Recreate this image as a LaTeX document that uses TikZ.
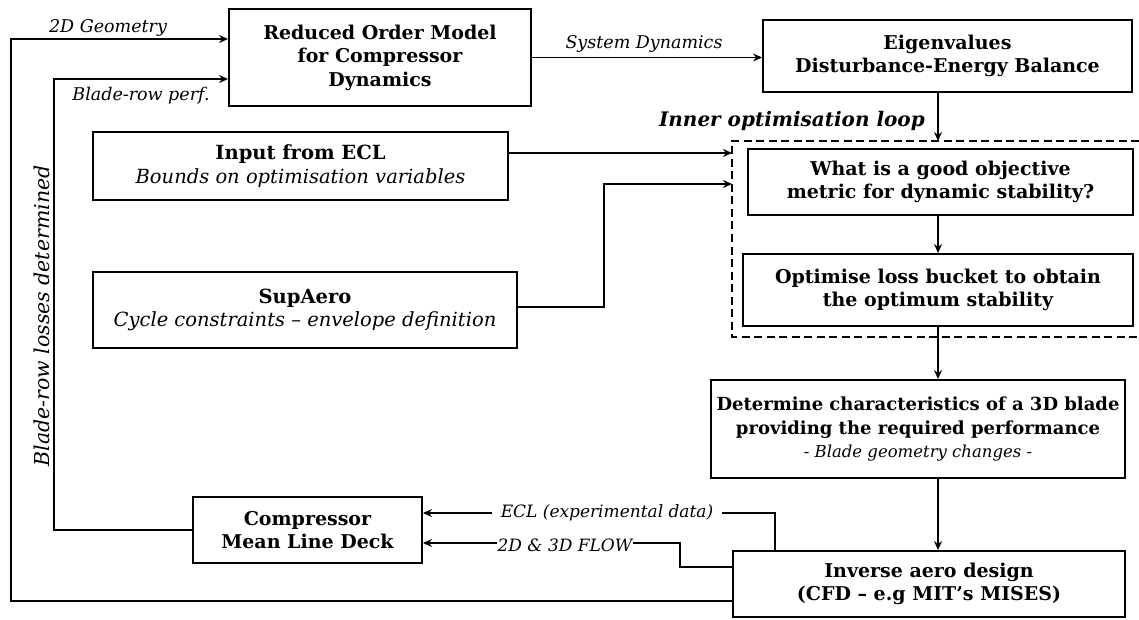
\documentclass[tikz,border=0pt]{standalone}
\usepackage{fontspec}
\setmainfont{DejaVu Serif}
\usetikzlibrary{arrows.meta}
\newcommand\fsz[1]{\fontsize{#1}{23.5}\selectfont}
\newcommand\boxit{\mdseries\itshape}
\begin{document}
\begin{tikzpicture}[x=1pt,y=-1pt,
  box/.style={draw, line width=1.9pt, align=center, inner sep=0pt},
  conn/.style={line width=1.6pt},
  arr/.style={conn, -{Stealth[length=9pt,width=8pt,inset=3pt]}},
  lab/.style={font=\fsz{17.5}\itshape, inner sep=0pt},
  dashbox/.style={line width=1.6pt, dash pattern=on 8pt off 4.5pt}]
\useasboundingbox (0,0) rectangle (1139,620);

% boxes
\node[box, font=\fsz{19}\bfseries, minimum width=302pt, minimum height=97pt] (rom) at (380,57.5) {Reduced Order Model\\for Compressor\\Dynamics};
\node[box, font=\fsz{19}\bfseries, minimum width=369pt, minimum height=72pt] (eig) at (947.5,56) {Eigenvalues\\Disturbance-Energy Balance};
\node[box, font=\fsz{19.5}\bfseries, minimum width=415pt, minimum height=68pt] (ecl) at (300.5,166) {Input from ECL\\{\fsz{19.5}\boxit Bounds on optimisation variables}};
\node[box, font=\fsz{19.5}\bfseries, minimum width=424pt, minimum height=76pt] (sup) at (305,310) {SupAero\\{\fsz{19.5}\boxit Cycle constraints – envelope definition}};
\node[box, font=\fsz{19}\bfseries, minimum width=385pt, minimum height=66pt] (what) at (940.5,182) {What is a good objective\\metric for dynamic stability?};
\node[box, font=\fsz{19}\bfseries, minimum width=390pt, minimum height=72pt] (opt) at (938,290) {Optimise loss bucket to obtain\\the optimum stability};
\node[box, font=\fsz{18}\bfseries, minimum width=414pt, minimum height=98pt] (det) at (918,429) {Determine characteristics of a 3D blade\\providing the required performance\\{\fsz{16.5}\boxit - Blade geometry changes -}};
\node[box, font=\fsz{19}\bfseries, minimum width=392pt, minimum height=66pt] (inv) at (929,584) {Inverse aero design\\(CFD – e.g MIT's MISES)};
\node[box, font=\fsz{19}\bfseries, minimum width=229pt, minimum height=66pt] (cmp) at (307.5,530) {Compressor\\Mean Line Deck};

% dashed inner loop frame
\coordinate (dtl) at (732,141);
\coordinate (dbl) at (732,337);
\coordinate (dtr) at (1139,141);
\coordinate (dbr) at (1139,337);
\draw[dashbox] (dtr) -- (dtl) -- (dbl) -- (dbr);
\node[font=\fsz{20}\bfseries\itshape, anchor=east, inner sep=0pt] (inner) at (925,121) {Inner optimisation loop};

% helper coordinates
\coordinate (x938) at (938,0);
\coordinate (y153) at (0,153);
\coordinate (y307) at (0,307);
\coordinate (b1) at (604,184);
\coordinate (o1) at (11,601);
\coordinate (o2) at (11,39);
\coordinate (i1) at (54,530);
\coordinate (i2) at (54,79);
\coordinate (e1) at (775,513);
\coordinate (f1) at (680,567);
\coordinate (f2) at (680,543);

% connectors
\draw[arr] (rom.east) -- (rom.east -| eig.west);
\node[lab] (sysdyn) at (644,44) {System Dynamics};
\draw[arr] (eig.south -| x938) -- (dtl -| x938);
\draw[arr] (what.south -| x938) -- (opt.north -| x938);
\draw[arr] (opt.south -| x938) -- (det.north -| x938);
\draw[arr] (det.south -| x938) -- (inv.north -| x938);
\draw[arr] (ecl.east |- y153) -- (dtl |- y153);
\draw[arr] (sup.east |- y307) -| (b1) -- (dtl |- b1);
\draw[arr] (inv.west |- o1) -- (o1) -- (o2) -- (o2 -| rom.west);
\node[lab] (geo) at (108,28) {2D Geometry};
\draw[arr] (cmp.west) -- (i1) -- (i2) -- (i2 -| rom.west);
\node[lab] (perf) at (141,96) {Blade-row perf.};
\node[font=\fsz{20.5}\itshape, inner sep=0pt, rotate=90] (loss) at (42,316) {Blade-row losses determined};
\draw[arr] (inv.north -| e1) -- (e1) -- (e1 -| cmp.east);
\node[lab, font=\fsz{17}\itshape, fill=white, inner xsep=9pt, inner ysep=2pt] (ecltxt) at (607,513) {ECL (experimental data)};
\draw[arr] (inv.west |- f1) -- (f1) -- (f2) -- (f2 -| cmp.east);
\node[lab, font=\fsz{17}\itshape, fill=white, inner xsep=1pt, inner ysep=2pt] (flowtxt) at (565,545) {2D \& 3D FLOW};
\end{tikzpicture}
\end{document}
